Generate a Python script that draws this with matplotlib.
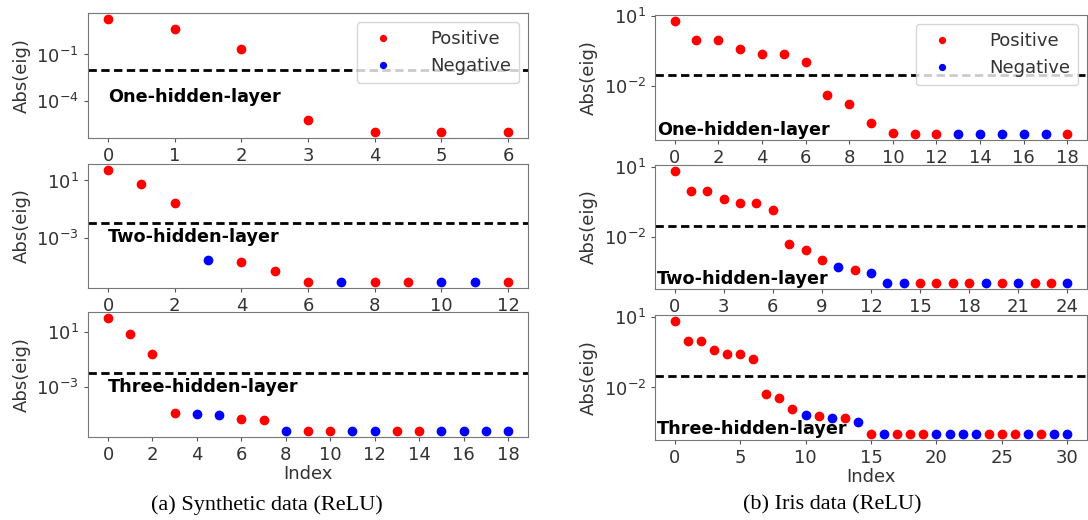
import matplotlib
matplotlib.use("Agg")
import matplotlib.pyplot as plt
import numpy as np

# |eigenvalue| estimates, sign: 1 = positive, 0 = negative
syn1_abs = [20, 4.5, 0.24, 6e-6, 1e-6, 1e-6, 1e-6]
syn1_pos = [1, 1, 1, 1, 1, 1, 1]

syn2_abs = [57, 5.3, 0.25, 2.7e-5, 2.0e-5, 4.7e-6] + [7.6e-7] * 7
syn2_pos = [1, 1, 1, 0, 1, 1, 1, 0, 1, 1, 0, 0, 1]

syn3_abs = [112, 7.6, 0.27, 1.2e-5, 1.0e-5, 9.1e-6, 4.3e-6, 3.6e-6] + [5.8e-7] * 11
syn3_pos = [1, 1, 1, 1, 0, 0, 1, 1, 0, 1, 1, 0, 0, 1, 1, 0, 0, 0, 0]

iris1_abs = [6.2, 0.91, 0.91, 0.37, 0.24, 0.24, 0.11, 4.2e-3, 1.7e-3, 2.6e-4, 1.0e-4] + [8.7e-5] * 8
iris1_pos = [1] * 13 + [0] * 5 + [1]

iris2_abs = [6.8, 0.95, 0.95, 0.40, 0.27, 0.27, 0.14, 5.0e-3, 2.8e-3, 1.0e-3,
             5.4e-4, 4.0e-4, 2.9e-4] + [1.05e-4] * 12
iris2_pos = [1] * 10 + [0, 1, 0, 0, 0, 1, 1, 1, 1, 0, 1, 0, 1, 1, 0]

iris3_abs = [7.1, 1.0, 1.0, 0.41, 0.27, 0.27, 0.17, 5.1e-3, 3.4e-3, 1.2e-3,
             6.5e-4, 5.9e-4, 5.0e-4, 4.9e-4, 3.2e-4] + [1.0e-4] * 16
iris3_pos = [1] * 10 + [0, 1, 0, 1, 0, 1, 0, 1, 1, 1, 0, 0, 0, 0, 1, 1, 1, 0, 1, 0, 0]

syn_thresh = 0.01
iris_thresh = 0.03

titles = ["One-hidden-layer", "Two-hidden-layer", "Three-hidden-layer"]

panels = [
    # (abs, pos, thresh, yticks, xstep, rect px, text y (axes frac))
    (syn1_abs, syn1_pos, syn_thresh, [1e-1, 1e-4], 1, [88, 13, 440, 125], 0.33),
    (syn2_abs, syn2_pos, syn_thresh, [1e1, 1e-3], 2, [88, 164, 440, 124], 0.41),
    (syn3_abs, syn3_pos, syn_thresh, [1e1, 1e-3], 2, [88, 312, 440, 125], 0.40),
    (iris1_abs, iris1_pos, iris_thresh, [1e1, 1e-2], 2, [655, 15, 432, 125], 0.08),
    (iris2_abs, iris2_pos, iris_thresh, [1e1, 1e-2], 3, [655, 165, 432, 124], 0.08),
    (iris3_abs, iris3_pos, iris_thresh, [1e1, 1e-2], 5, [655, 315, 432, 125], 0.09),
]

W, H = 1088, 520
fig = plt.figure(figsize=(W / 100, H / 100), dpi=100)

for k, (vals, pos, thr, yt, step, r, ty) in enumerate(panels):
    x0, y0, w, h = r
    ax = fig.add_axes([x0 / W, 1 - (y0 + h) / H, w / W, h / H])
    vals = np.array(vals)
    pos = np.array(pos, dtype=bool)
    idx = np.arange(len(vals))
    ax.plot(idx[pos], vals[pos], "o", color="red", ms=6, label="Positive")
    ax.plot(idx[~pos], vals[~pos], "o", color="blue", ms=6, label="Negative")
    ax.set_yscale("log")
    ax.axhline(thr, color="black", ls="--", lw=2, dashes=(3, 1.6))
    ax.set_yticks(yt)
    ax.minorticks_off()
    ax.set_xticks(np.arange(0, len(vals), step))
    ax.tick_params(labelsize=13, colors="#555555", labelcolor="#333333", length=3)
    for s in ax.spines.values():
        s.set_color("#777777")
    ax.set_ylabel("Abs(eig)", fontsize=13, color="#333333")
    ax.text(0.045 if k < 3 else 0.005, ty, titles[k % 3], transform=ax.transAxes,
            fontsize=12.7, fontweight="bold", va="center")
    if k % 3 == 0:
        ax.legend(loc="upper right", fontsize=13, markerscale=0.7, handletextpad=1.6,
                  borderpad=0.45, labelspacing=0.5, labelcolor="#333333")
    if k % 3 == 2:
        ax.set_xlabel("Index", fontsize=13, color="#333333", labelpad=1)

fig.text(267 / W, 1 - 505 / H, "(a) Synthetic data (ReLU)", ha="center", va="center",
         fontsize=16, family="Liberation Serif")
fig.text(832 / W, 1 - 505 / H, "(b) Iris data (ReLU)", ha="center", va="center",
         fontsize=16, family="Liberation Serif")

fig.savefig("out.png", dpi=100)
